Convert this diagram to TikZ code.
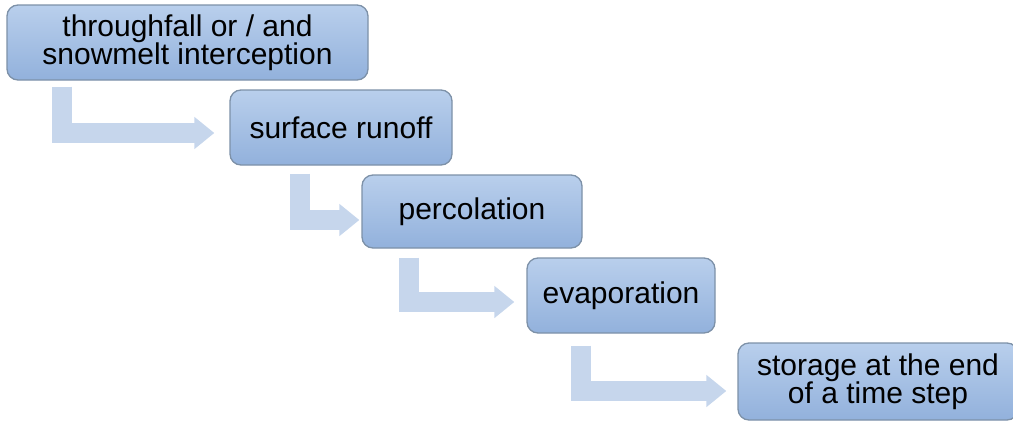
\documentclass[tikz,border=0pt]{standalone}
\usepackage{fontspec}
\setmainfont{Liberation Sans}
\usetikzlibrary{arrows.meta,calc}
\definecolor{boxtop}{HTML}{B9CFEC}
\definecolor{boxbot}{HTML}{92B1DC}
\definecolor{boxline}{HTML}{7D91A8}
\definecolor{flowc}{HTML}{C6D6EC}
\begin{document}
\begin{tikzpicture}[x=1pt,y=-1pt,
  stage/.style={draw=boxline, line width=1.3pt, rounded corners=11pt,
    top color=boxtop, bottom color=boxbot, inner sep=0pt, align=center,
    font=\fontsize{30}{28.5}\selectfont},
  flow/.style={draw=flowc, line width=20pt,
    -{Triangle[length=20pt,width=31pt]}}]
\useasboundingbox (0,0) rectangle (1013,421);
\clip (0,0) rectangle (1013,421);

% process stages
\node[stage, minimum width=361pt, minimum height=75pt] (b1) at (187.5,42.5)
  {throughfall or / and\\snowmelt interception};
\node[stage, minimum width=222pt, minimum height=75pt] (b2) at (341,127.5)
  {surface runoff};
\node[stage, minimum width=220pt, minimum height=73pt] (b3) at (472,211.5)
  {percolation};
\node[stage, minimum width=188pt, minimum height=75pt] (b4) at (621,295.5)
  {evaporation};
\node[stage, minimum width=280pt, minimum height=77pt] (b5) at (878,381.5)
  {storage at the end\\of a time step};

% bent arrows between consecutive stages
\draw[flow] ($(b1.south west)+(56,6)$)   |- ($(b2.west)+(-15,5.5)$);
\draw[flow] ($(b2.south west)+(71,8)$)   |- ($(b3.west)+(-2,8.5)$);
\draw[flow] ($(b3.south west)+(48,9)$)   |- ($(b4.west)+(-12,6.5)$);
\draw[flow] ($(b4.south west)+(54.5,12)$) |- ($(b5.west)+(-11,9.5)$);
\end{tikzpicture}
\end{document}
